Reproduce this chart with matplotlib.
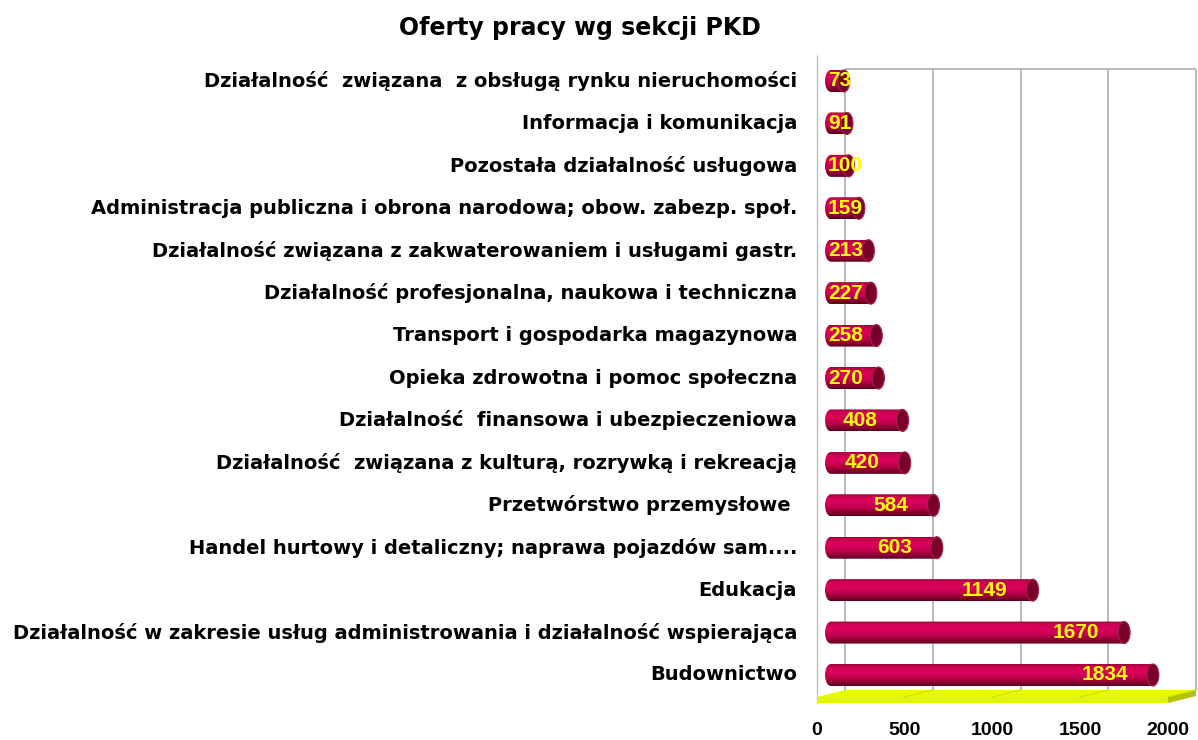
import numpy as np
import matplotlib
matplotlib.use("Agg")
import matplotlib.pyplot as plt
from matplotlib.path import Path
from matplotlib.patches import PathPatch, Ellipse, Polygon
from matplotlib.colors import LinearSegmentedColormap

# data, bottom to top as in the chart
categories = [
    "Budownictwo",
    "Działalność w zakresie usług administrowania i działalność wspierająca",
    "Edukacja",
    "Handel hurtowy i detaliczny; naprawa pojazdów sam....",
    "Przetwórstwo przemysłowe ",
    "Działalność  związana z kulturą, rozrywką i rekreacją",
    "Działalność  finansowa i ubezpieczeniowa",
    "Opieka zdrowotna i pomoc społeczna",
    "Transport i gospodarka magazynowa",
    "Działalność profesjonalna, naukowa i techniczna",
    "Działalność związana z zakwaterowaniem i usługami gastr.",
    "Administracja publiczna i obrona narodowa; obow. zabezp. społ.",
    "Pozostała działalność usługowa",
    "Informacja i komunikacja",
    "Działalność  związana  z obsługą rynku nieruchomości",
]
values = [1834, 1670, 1149, 603, 584, 420, 408, 270, 258, 227, 213, 159, 100, 91, 73]
xticks = [0, 500, 1000, 1500, 2000]
title = "Oferty pracy wg sekcji PKD"

plt.rcParams['font.family'] = ['Liberation Sans', 'DejaVu Sans']

W, H = 1198, 740
fig = plt.figure(figsize=(W / 100, H / 100), dpi=100)

# front frame of the 3d plot area, in pixels from the top-left corner
ax_l, ax_r, ax_top, ax_bot = 817, 1168, 55, 697
first_px, last_px = 678.5, 84.5
n = len(values)
step = (first_px - last_px) / (n - 1)
y0 = -(ax_bot - first_px) / step
y1 = (n - 1) + (last_px - ax_top) / step

ax = fig.add_axes([ax_l / W, 1 - ax_bot / H, (ax_r - ax_l) / W, (ax_bot - ax_top) / H])
xmax = xticks[-1]
px_x = xmax / (ax_r - ax_l)
px_y = 1 / step

DX, DY = 28 * px_x, 7 * px_y          # depth of the plot box
T = 6 * px_y                          # floor thickness
ytop_back = (n - 1) + (last_px - 69) / step

# back wall grid
ax.vlines([t + DX for t in xticks], y0 + DY, ytop_back, colors='#b4b4b4', lw=1.3, clip_on=False, zorder=1)
ax.hlines(ytop_back, DX, xmax + DX, colors='#b4b4b4', lw=1.3, clip_on=False, zorder=1)
ax.vlines(0, y0 - T, y1, colors='#c0c0c0', lw=1.0, clip_on=False, zorder=1)

# floor
floor_top = Polygon([(0, y0), (xmax, y0), (xmax + DX, y0 + DY), (DX, y0 + DY)],
                    closed=True, fc='#e6fa00', ec='none', clip_on=False, zorder=2)
floor_front = Polygon([(0, y0), (xmax, y0), (xmax, y0 - T), (0, y0 - T)],
                      closed=True, fc='#e2f500', ec='none', clip_on=False, zorder=2)
floor_side = Polygon([(xmax, y0), (xmax + DX, y0 + DY), (xmax + DX, y0 + DY - T), (xmax, y0 - T)],
                     closed=True, fc='#b4c200', ec='none', clip_on=False, zorder=2)
for p in (floor_top, floor_front, floor_side):
    ax.add_patch(p)
for t in xticks[1:]:
    ax.plot([t, t + DX], [y0, y0 + DY], color='#cbdc00', lw=0.8, clip_on=False, zorder=2)

# cylinders
cmap = LinearSegmentedColormap.from_list('cyl', [
    (0.0, '#9a0038'), (0.12, '#cc004e'), (0.35, '#da005c'),
    (0.6, '#c4004e'), (0.85, '#880030'), (1.0, '#5a0020')])
grad = np.linspace(0, 1, 64).reshape(-1, 1)
rx = 6 * px_x
h = 22 * px_y
xc0 = DX / 2

labels = []
for i, v in enumerate(values):
    yc = i + DY / 2
    x1 = xc0 + v
    yb, yt = yc - h / 2, yc + h / 2
    arc = Path.arc(90, 270)
    arc_v = arc.vertices * [rx, h / 2] + [xc0, yc]
    verts = [(xc0, yb), (x1, yb), (x1, yt), (xc0, yt)] + list(map(tuple, arc_v[1:])) + [(xc0, yb)]
    codes = [Path.MOVETO, Path.LINETO, Path.LINETO, Path.LINETO] + list(arc.codes[1:]) + [Path.CLOSEPOLY]
    clip = PathPatch(Path(verts, codes), transform=ax.transData)
    im = ax.imshow(grad, cmap=cmap, extent=(xc0 - rx, x1, yb, yt), origin='upper',
                   aspect='auto', interpolation='bilinear', zorder=3)
    im.set_clip_path(clip)
    ax.add_patch(Ellipse((x1, yc), 2 * rx, h, fc='#7a002c', ec='#a8204a', lw=0.8, zorder=4))

    t = ax.text(x1 - 25 * px_x, yc, str(v), ha='right', va='center', color='#ffff00',
                fontsize=15, fontweight='bold', zorder=5)
    labels.append((t, x1))

    ax.text(-20 * px_x, yc, categories[i], ha='right', va='center', fontsize=14,
            fontweight='bold', color='black', clip_on=False, family='DejaVu Sans')

ax.set_xlim(0, xmax)
ax.set_ylim(y0, y1)
ax.set_xticks(xticks)
ax.set_xticklabels([str(t) for t in xticks], fontsize=14, fontweight='bold')
ax.set_yticks([])
ax.tick_params(axis='x', length=0, pad=18)
for s in ax.spines.values():
    s.set_visible(False)

# keep value labels inside the bar start for short bars
fig.canvas.draw()
inv = ax.transData.inverted()
bar_left_px = ax.transData.transform((xc0 - rx, 0))[0]
for t, x1 in labels:
    bb = t.get_window_extent()
    right_px = ax.transData.transform((x1 - 25 * px_x, 0))[0]
    min_right = bar_left_px + 3 + bb.width
    if right_px < min_right:
        t.set_x(inv.transform((min_right, 0))[0])

fig.text(580 / W, 1 - 28 / H, title, ha='center', va='center', fontsize=17, fontweight='bold',
         family='DejaVu Sans')

fig.savefig('out.png', dpi=100)
